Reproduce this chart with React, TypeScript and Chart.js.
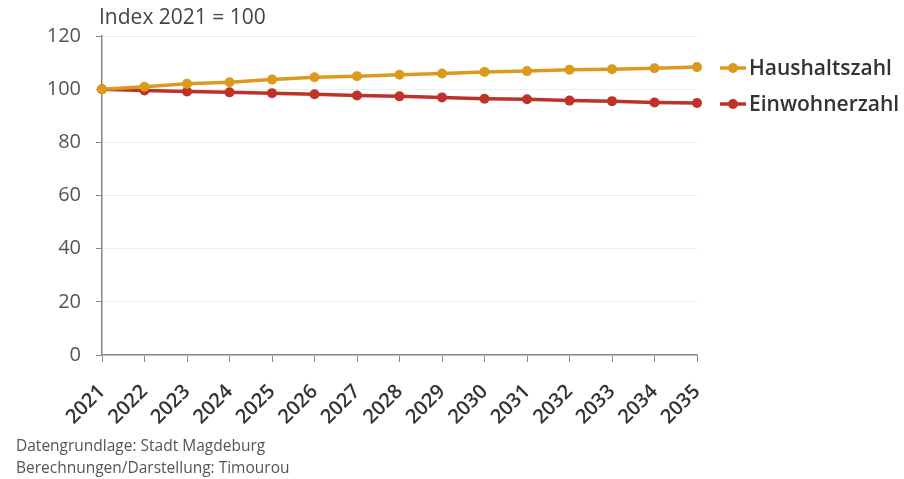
import React, { useEffect, useRef } from "react";
import { Chart, registerables } from "chart.js";

Chart.register(...registerables);

const years = ["2021","2022","2023","2024","2025","2026","2027","2028","2029","2030","2031","2032","2033","2034","2035"];
const haushalte = [100, 100.9, 102.0, 102.6, 103.6, 104.5, 104.9, 105.4, 105.9, 106.5, 106.8, 107.3, 107.5, 107.9, 108.3];
const einwohner = [100, 99.5, 99.1, 98.8, 98.5, 98.1, 97.6, 97.3, 96.9, 96.4, 96.2, 95.7, 95.5, 95.0, 94.8];
const seriesLabels = ["Haushaltszahl", "Einwohnerzahl"];
const seriesColors = ["#DB9A1E", "#BE3229"];
const yTitle = "Index 2021 = 100";
const sourceLines = ["Datengrundlage: Stadt Magdeburg", "Berechnungen/Darstellung: Timourou"];

const FONT = "'Open Sans', 'DejaVu Sans', sans-serif";

const legendPlugin = {
  id: "sideLegend",
  afterDraw(chart: any) {
    const ctx = chart.ctx;
    const area = chart.chartArea;
    ctx.save();
    ctx.font = `21px ${FONT}`;
    ctx.fillStyle = "#444";
    ctx.textAlign = "left";
    ctx.textBaseline = "middle";
    ctx.fillText(yTitle, area.left - 3, 18);
    chart.data.datasets.forEach((ds: any, i: number) => {
      const y = area.top + 32 + i * 36;
      const x0 = area.right + 23;
      ctx.strokeStyle = ds.borderColor;
      ctx.lineWidth = 3.5;
      ctx.beginPath();
      ctx.moveTo(x0, y);
      ctx.lineTo(x0 + 26, y);
      ctx.stroke();
      ctx.fillStyle = ds.borderColor;
      ctx.beginPath();
      ctx.arc(x0 + 13, y, 5, 0, Math.PI * 2);
      ctx.fill();
      ctx.fillStyle = "#333";
      ctx.font = `600 21px ${FONT}`;
      ctx.textBaseline = "middle";
      ctx.fillText(ds.label, x0 + 29, y + 1);
    });
    ctx.restore();
  },
};

export default function App() {
  const ref = useRef<HTMLCanvasElement>(null);
  useEffect(() => {
    const chart = new Chart(ref.current as HTMLCanvasElement, {
      type: "line",
      data: {
        labels: years,
        datasets: [
          {
            label: seriesLabels[0],
            data: haushalte,
            borderColor: seriesColors[0],
            backgroundColor: seriesColors[0],
            borderWidth: 3.5,
            pointRadius: 5,
            pointHoverRadius: 5,
            pointBorderWidth: 0,
            tension: 0,
          },
          {
            label: seriesLabels[1],
            data: einwohner,
            borderColor: seriesColors[1],
            backgroundColor: seriesColors[1],
            borderWidth: 3.5,
            pointRadius: 5,
            pointHoverRadius: 5,
            pointBorderWidth: 0,
            tension: 0,
          },
        ],
      },
      options: {
        animation: false,
        responsive: false,
        layout: { padding: { top: 36, right: 207, left: 0, bottom: 0 } },
        plugins: { legend: { display: false }, tooltip: { enabled: false } },
        scales: {
          x: {
            offset: false,
            grid: { drawOnChartArea: false, tickLength: 7, tickColor: "#888", color: "#888" },
            border: { color: "#888", width: 1.5 },
            ticks: {
              font: { family: FONT, size: 20, weight: "600" },
              color: "#333",
              maxRotation: 45,
              minRotation: 45,
              padding: 18,
            },
            afterFit: (s: any) => { s.height = 124; },
          },
          y: {
            min: 0,
            max: 120,
            grid: { color: "#eeeeee", tickLength: 6, tickColor: "#888" },
            border: { color: "#888", width: 1.5 },
            ticks: {
              stepSize: 20,
              font: { family: FONT, size: 20, weight: "400" },
              color: "#555",
              padding: 15,
            },
            afterFit: (s: any) => { s.width = 102; },
          },
        },
      },
      plugins: [legendPlugin],
    });
    return () => chart.destroy();
  }, []);
  return (
    <div style={{ position: "absolute", left: 0, top: 0, width: 904, height: 479, background: "#fff" }}>
      <canvas ref={ref} width={904} height={479} style={{ display: "block" }} />
      <div style={{ position: "absolute", left: 16, top: 434, fontFamily: FONT, fontSize: 15.5, color: "#555", lineHeight: "22px" }}>
        {sourceLines.map((l) => (<div key={l}>{l}</div>))}
      </div>
    </div>
  );
}
